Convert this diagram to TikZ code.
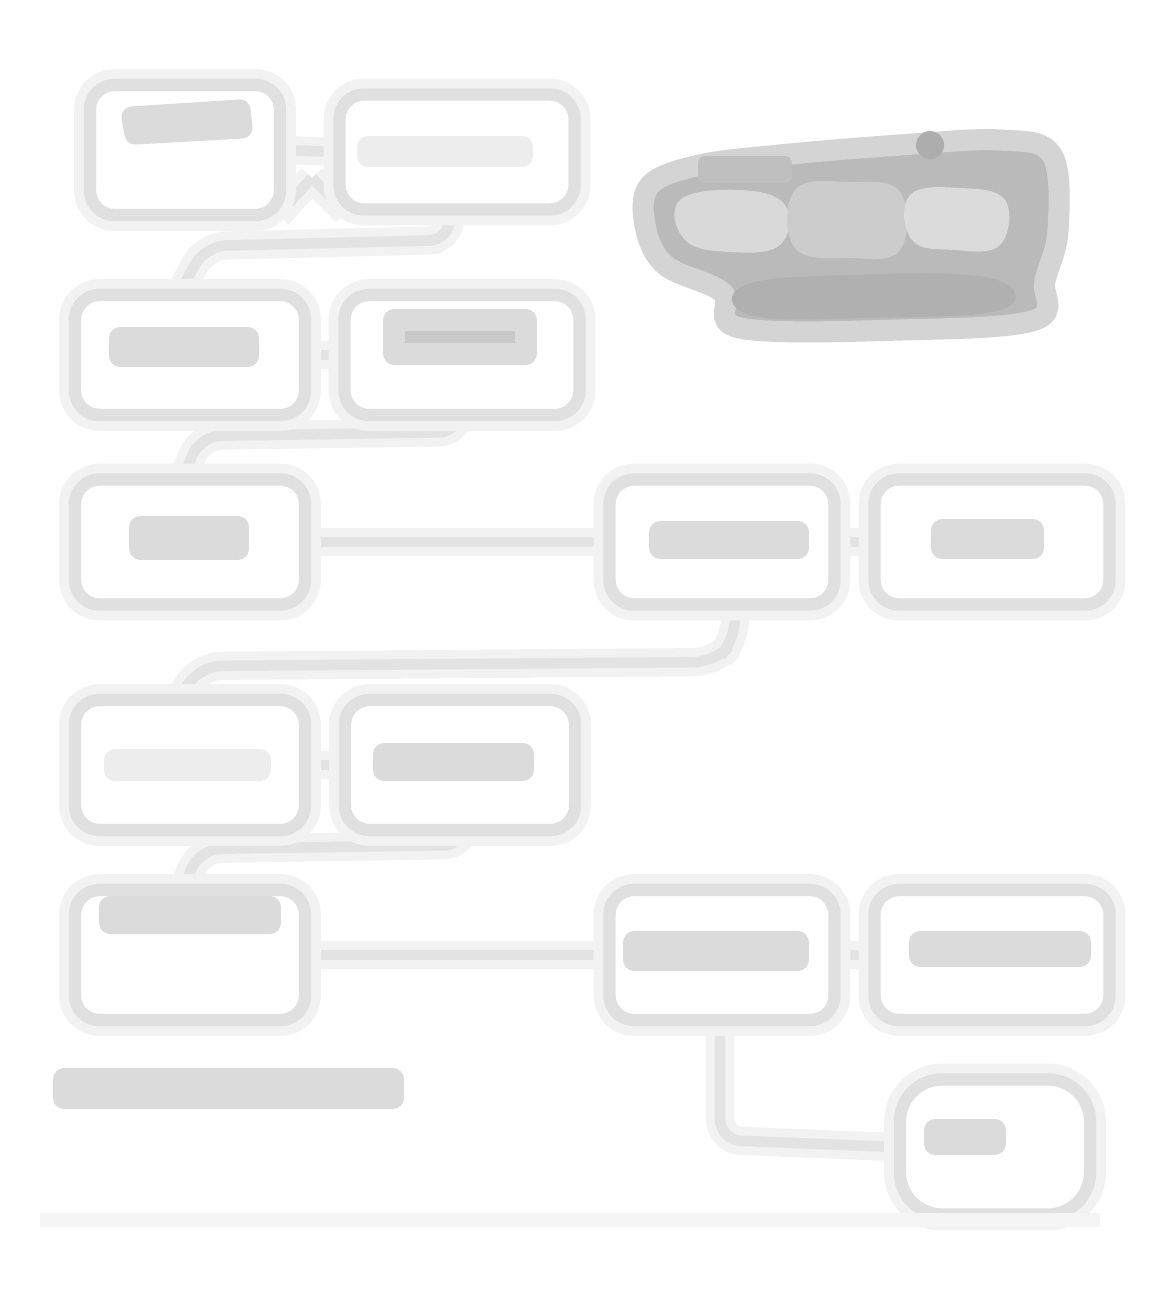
\documentclass[tikz,border=0pt]{standalone}
\pgfdeclarelayer{background}
\pgfsetlayers{background,main}
\begin{document}
\begin{tikzpicture}[x=0.01cm,y=-0.01cm,
  halo/.style={draw=black!5,line width=9pt},
  box/.style={draw=black!12,line width=3.5pt,rectangle,rounded corners=7pt,inner sep=0pt,
     preaction={halo},fill=white},
  wire/.style={draw=black!11,line width=3pt,rounded corners=6pt,preaction={draw=black!5,line width=8pt}},
  blob/.style={fill=black!21,draw=black!14,line width=6pt,line join=round},
  lblob/.style={fill=black!10,draw=black!7,line width=6pt,line join=round}]
\begin{pgfonlayer}{background}
\fill[white] (0,0) rectangle (1157,1303);
\end{pgfonlayer}
\useasboundingbox (0,0) rectangle (1157,1303);

% boxes
\node[box,minimum width=1.9cm,minimum height=1.3cm] (A) at (185,150) {};
\node[box,minimum width=2.35cm,minimum height=1.15cm] (B) at (457,152) {};
\node[box,minimum width=2.3cm,minimum height=1.2cm] (C) at (190,355) {};
\node[box,minimum width=2.35cm,minimum height=1.2cm] (D) at (462,355) {};
\node[box,minimum width=2.3cm,minimum height=1.25cm] (E) at (190,542) {};
\node[box,minimum width=2.25cm,minimum height=1.25cm] (F) at (722,542) {};
\node[box,minimum width=2.35cm,minimum height=1.25cm] (G) at (992,542) {};
\node[box,minimum width=2.3cm,minimum height=1.3cm] (H) at (190,765) {};
\node[box,minimum width=2.3cm,minimum height=1.3cm] (I) at (460,765) {};
\node[box,minimum width=2.3cm,minimum height=1.3cm] (J) at (190,955) {};
\node[box,minimum width=2.25cm,minimum height=1.3cm] (K) at (722,955) {};
\node[box,minimum width=2.35cm,minimum height=1.3cm] (L) at (992,955) {};
\node[box,minimum width=1.9cm,minimum height=1.35cm,rounded corners=12pt] (M) at (995,1147) {};

% connectors (behind the boxes)
\begin{pgfonlayer}{background}
\coordinate (t1) at (312,178);
\draw[wire] (A.east) -- (B.west);
\draw[wire] (t1) -- (278,215) (t1) -- (346,212);
\draw[wire] (B.south -| 450,0) -- (450,240) -- (205,246) -- (C.north -| 182,0);
\draw[wire] (C.east) -- (D.west);
\draw[wire] (D.south -| 460,0) -- (460,432) -- (200,436) -- (E.north -| 185,0);
\draw[wire] (E.east) -- (F.west);
\draw[wire] (F.east) -- (G.west);
\draw[wire] (F.south -| 735,0) -- (735,640) -- (715,662) -- (200,666) -- (H.north -| 182,0);
\draw[wire] (H.east) -- (I.west);
\draw[wire] (I.south -| 465,0) -- (465,845) -- (200,849) -- (J.north -| 185,0);
\draw[wire] (J.east) -- (K.west);
\draw[wire] (K.east) -- (L.west);
\draw[wire] (K.south -| 720,0) -- (720,1140) -- (M.west);
\end{pgfonlayer}

% text-like marks in the boxes
\path[blob] (132,117) -- (240,110) -- (242,128) -- (135,134) -- cycle;
\path[lblob] (368,147) rectangle (522,156);
\path[blob] (120,338) rectangle (248,356);
\path[blob] (394,320) -- (526,320) -- (526,354) -- (394,354) -- cycle;
\path[blob] (140,527) rectangle (238,549);
\path[blob] (660,532) rectangle (798,548);
\path[blob] (942,530) rectangle (1033,548);
\path[lblob] (115,760) rectangle (260,770);
\path[blob] (384,754) rectangle (523,770);
\path[blob] (110,907) rectangle (270,923);
\path[blob] (634,942) rectangle (798,960);
\path[blob] (920,942) rectangle (1080,956);
\path[blob] (935,1130) rectangle (995,1144);

% caption-like mark bottom left
\path[blob] (64,1079) rectangle (393,1098);
% faint base line
\draw[draw=black!4,line width=4pt] (40,1220) -- (1100,1220);

% top-right illustration
\path[fill=black!27,draw=black!17,line width=6pt]
  plot[smooth cycle,tension=0.6] coordinates {(650,185) (700,165) (780,155) (900,145) (1000,140) (1052,155)
  (1058,230) (1045,280) (1035,320) (900,330) (740,328) (722,292) (665,265) (645,225)};
\path[fill=black!15] plot[smooth cycle,tension=0.7] coordinates {(680,200) (740,190) (785,205) (780,245) (730,252) (685,240)};
\path[fill=black!20] plot[smooth cycle,tension=0.7] coordinates {(795,190) (850,182) (900,192) (900,250) (850,258) (795,248)};
\path[fill=black!14] plot[smooth cycle,tension=0.7] coordinates {(910,195) (960,188) (1005,200) (1000,245) (955,250) (912,240)};
\path[fill=black!31] plot[smooth cycle,tension=0.7] coordinates {(745,285) (850,275) (990,278) (1000,310) (860,318) (750,315)};
\path[fill=black!32] (930,145) circle (14);
\path[fill=black!33,draw=black!25,line width=4pt,line join=round] (705,163) rectangle (785,176);
\end{tikzpicture}
\end{document}
